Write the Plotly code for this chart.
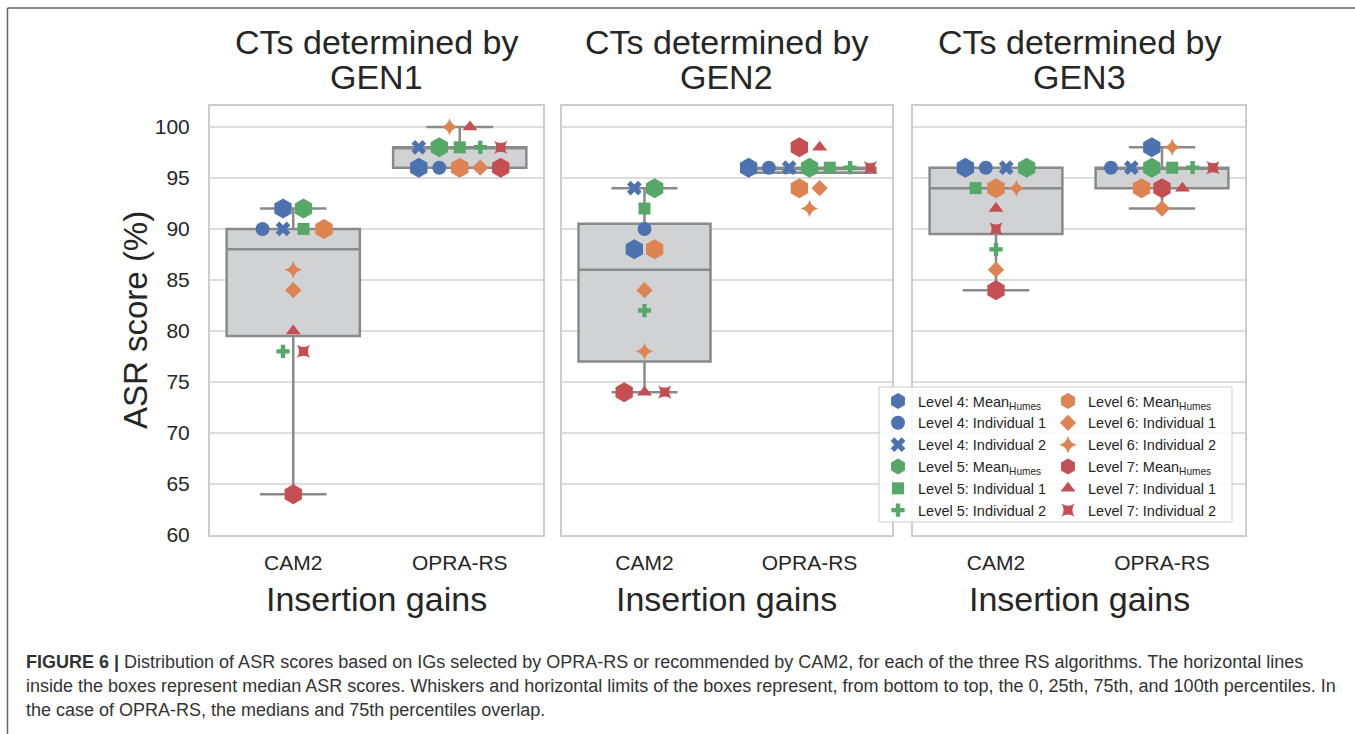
import numpy as np
import plotly.graph_objects as go

W, H = 1355, 734

# ---------------- data ----------------
gens = ["GEN1", "GEN2", "GEN3"]
ig_labels = ["CAM2", "OPRA-RS"]
y_ticks = [60, 65, 70, 75, 80, 85, 90, 95, 100]

# each list: GEN1-CAM2, GEN1-OPRA-RS, GEN2-CAM2, GEN2-OPRA-RS, GEN3-CAM2, GEN3-OPRA-RS
level4_mean = [92, 96, 88, 96, 96, 98]
level4_ind1 = [90, 96, 90, 96, 96, 96]
level4_ind2 = [90, 98, 94, 96, 96, 96]
level5_mean = [92, 98, 94, 96, 96, 96]
level5_ind1 = [90, 98, 92, 96, 94, 96]
level5_ind2 = [78, 98, 82, 96, 88, 96]
level6_mean = [90, 96, 88, 94, 94, 94]
level6_ind1 = [84, 96, 84, 94, 86, 92]
level6_ind2 = [86, 100, 78, 92, 94, 98]
level7_mean = [64, 96, 74, 98, 84, 94]
level7_ind1 = [80, 100, 74, 98, 92, 94]
level7_ind2 = [78, 98, 74, 96, 90, 96]

series_names = [
    "Level 4: Mean<sub>Humes</sub>", "Level 4: Individual 1", "Level 4: Individual 2",
    "Level 5: Mean<sub>Humes</sub>", "Level 5: Individual 1", "Level 5: Individual 2",
    "Level 6: Mean<sub>Humes</sub>", "Level 6: Individual 1", "Level 6: Individual 2",
    "Level 7: Mean<sub>Humes</sub>", "Level 7: Individual 1", "Level 7: Individual 2",
]
series_values = [level4_mean, level4_ind1, level4_ind2,
                 level5_mean, level5_ind1, level5_ind2,
                 level6_mean, level6_ind1, level6_ind2,
                 level7_mean, level7_ind1, level7_ind2]

# ---------------- styles ----------------
BLUE, ORANGE, GREEN, RED = "#4C72B0", "#DD8452", "#55A868", "#C44E52"
series_colors = [BLUE] * 3 + [GREEN] * 3 + [ORANGE] * 3 + [RED] * 3
series_symbols = ["hexagon", "circle", "x",
                  "hexagon", "square", "cross",
                  "hexagon", "diamond", "star-diamond",
                  "hexagon", "triangle-up", "star-square"]
series_sizes = [20, 14, 13, 20, 12, 11, 20, 12.5, 12.5, 20, 13, 12]
series_legend = ["legend"] * 6 + ["legend2"] * 6

TEXT = "#262626"
FONT = "Liberation Sans, Arial, Helvetica, sans-serif"
GRID = "#dddddd"
FRAME = "#cdcdcd"
BOX_FILL = "#d1d2d4"
BOX_LINE = "#8a8a8a"

panel_px = [(210, 543), (562, 892), (913, 1245)]
plot_top, plot_bottom = 106, 535
y_range = [60, 102.05]
spacing = 0.123  # swarm spacing in category units


def px_x(px):
    return px / W


def px_y(py):
    return 1 - py / H


fig = go.Figure()

for g in range(3):
    xa = "x" if g == 0 else f"x{g + 1}"
    ya = "y" if g == 0 else f"y{g + 1}"
    for k in range(2):
        col = 2 * g + k
        vals = np.array([s[col] for s in series_values], float)
        q1, med, q3 = np.percentile(vals, [25, 50, 75])
        iqr = q3 - q1
        lo = vals[vals >= q1 - 1.5 * iqr].min()
        hi = vals[vals <= q3 + 1.5 * iqr].max()
        fig.add_trace(go.Box(
            x=[k], q1=[q1], median=[med], q3=[q3], lowerfence=[lo], upperfence=[hi],
            width=0.8, whiskerwidth=0.5, fillcolor=BOX_FILL,
            line=dict(color=BOX_LINE, width=2.5), boxpoints=False,
            showlegend=False, hoverinfo="skip", xaxis=xa, yaxis=ya))

# swarm-like horizontal offsets computed from the values
offsets = {}
for col in range(6):
    vals = [s[col] for s in series_values]
    rows = {}
    for i, v in enumerate(vals):
        rows.setdefault(v, []).append(i)
    for v, idxs in rows.items():
        n = len(idxs)
        for j, i in enumerate(idxs):
            offsets[(col, i)] = (j - (n - 1) / 2) * spacing

for i, (name, vals) in enumerate(zip(series_names, series_values)):
    for g in range(3):
        xa = "x" if g == 0 else f"x{g + 1}"
        ya = "y" if g == 0 else f"y{g + 1}"
        xs = [k + offsets[(2 * g + k, i)] for k in range(2)]
        ys = [vals[2 * g + k] for k in range(2)]
        fig.add_trace(go.Scatter(
            x=xs, y=ys, mode="markers", name=name,
            legendgroup=f"s{i}", showlegend=(g == 0), legend=series_legend[i],
            marker=dict(symbol=series_symbols[i], size=series_sizes[i],
                        color=series_colors[i], line=dict(width=0)),
            xaxis=xa, yaxis=ya, hoverinfo="x+y+name"))

layout = dict(
    width=W, height=H, margin=dict(l=0, r=0, t=0, b=0, pad=0, autoexpand=False),
    paper_bgcolor="white", plot_bgcolor="white",
    font=dict(family=FONT, color=TEXT),
    showlegend=True,
)

ydom = [px_y(plot_bottom), px_y(plot_top)]
for g in range(3):
    sx = "" if g == 0 else str(g + 1)
    x0, x1 = panel_px[g]
    layout["xaxis" + sx] = dict(
        domain=[px_x(x0), px_x(x1)], range=[-0.5, 1.5], automargin=False,
        tickvals=[0, 1], ticktext=ig_labels, tickfont=dict(size=21, color=TEXT),
        showgrid=False, zeroline=False, showline=True, mirror=True,
        linecolor=FRAME, linewidth=2, ticks="outside", ticklen=8,
        tickcolor="rgba(0,0,0,0)", anchor="y" + sx, fixedrange=True)
    layout["yaxis" + sx] = dict(
        domain=ydom, range=y_range, tickvals=y_ticks, automargin=False,
        tickfont=dict(size=21, color=TEXT), showticklabels=(g == 0),
        showgrid=True, gridcolor=GRID, gridwidth=1.5, zeroline=False,
        showline=True, mirror=True, linecolor=FRAME, linewidth=2,
        ticks="outside" if g == 0 else "", ticklen=14, tickcolor="rgba(0,0,0,0)",
        anchor="x" + sx, fixedrange=True)

legend_common = dict(
    xanchor="left", yanchor="top", bgcolor="rgba(0,0,0,0)", borderwidth=0,
    font=dict(size=14.5, color=TEXT, family=FONT), tracegroupgap=0,
    itemsizing="trace", orientation="v")
layout["legend"] = dict(x=px_x(878), y=px_y(385), **legend_common)
layout["legend2"] = dict(x=px_x(1048), y=px_y(385), **legend_common)

annotations = []
for g in range(3):
    x0, x1 = panel_px[g]
    cx = px_x((x0 + x1) / 2)
    annotations.append(dict(text="CTs determined by", x=cx, y=px_y(42), xref="paper", yref="paper",
                            showarrow=False, xanchor="center", yanchor="middle",
                            font=dict(size=34, color=TEXT)))
    annotations.append(dict(text=gens[g], x=cx, y=px_y(77), xref="paper", yref="paper",
                            showarrow=False, xanchor="center", yanchor="middle",
                            font=dict(size=34, color=TEXT)))
    annotations.append(dict(text="Insertion gains", x=cx, y=px_y(599), xref="paper", yref="paper",
                            showarrow=False, xanchor="center", yanchor="middle",
                            font=dict(size=34, color=TEXT)))
annotations.append(dict(text="ASR score (%)", x=px_x(135), y=px_y(320), xref="paper", yref="paper",
                        showarrow=False, xanchor="center", yanchor="middle", textangle=-90,
                        font=dict(size=33, color=TEXT)))

caption_lines = [
    "<b>FIGURE 6 |</b> Distribution of ASR scores based on IGs selected by OPRA-RS or recommended by CAM2, "
    "for each of the three RS algorithms. The horizontal lines",
    "inside the boxes represent median ASR scores. Whiskers and horizontal limits of the boxes represent, "
    "from bottom to top, the 0, 25th, 75th, and 100th percentiles. In",
    "the case of OPRA-RS, the medians and 75th percentiles overlap.",
]
for j, line in enumerate(caption_lines):
    annotations.append(dict(text=line, x=px_x(24), y=px_y(662 + 24 * j), xref="paper", yref="paper",
                            showarrow=False, xanchor="left", yanchor="middle", align="left",
                            font=dict(size=18, color="#333333")))
layout["annotations"] = annotations

layout["shapes"] = [
    # legend frame
    dict(type="rect", xref="paper", yref="paper", x0=px_x(879), x1=px_x(1232),
         y0=px_y(522), y1=px_y(387), fillcolor="rgba(255,255,255,0.85)",
         line=dict(color="#cccccc", width=1), layer="above"),
    # figure frame (top and left rules)
    dict(type="line", xref="paper", yref="paper", x0=px_x(7.5), x1=1, y0=px_y(8), y1=px_y(8),
         line=dict(color="#666666", width=1.5)),
    dict(type="line", xref="paper", yref="paper", x0=px_x(7.5), x1=px_x(7.5), y0=0, y1=px_y(8),
         line=dict(color="#666666", width=1.5)),
]

fig.update_layout(**layout)
fig.write_html("out.html", config={"displayModeBar": False},
               post_script="document.body.style.margin='0px';document.body.style.overflow='hidden';")
